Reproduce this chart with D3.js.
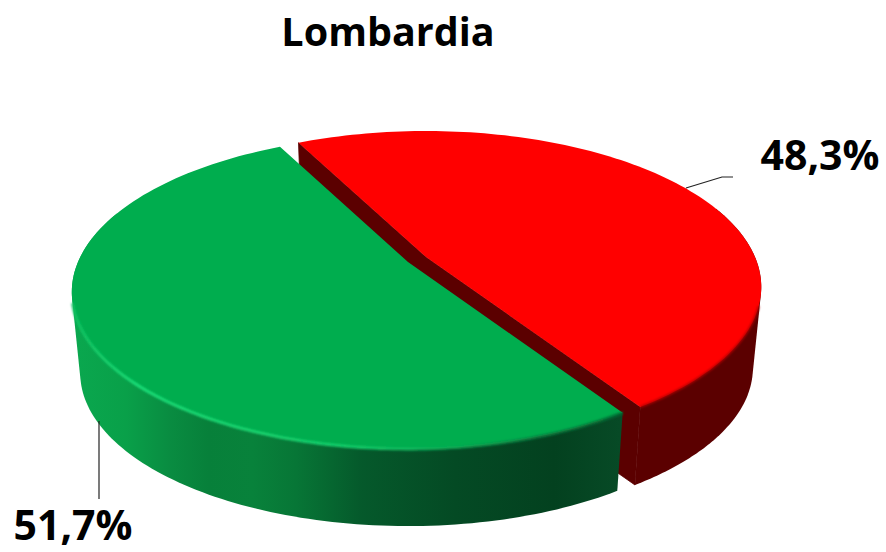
<!DOCTYPE html>
<html><head><meta charset="utf-8">
<script src="https://cdn.jsdelivr.net/npm/d3@7/dist/d3.min.js"></script>
<style>html,body{margin:0;background:#fff}svg{display:block}</style></head>
<body><svg id="c" width="886" height="552"></svg>
<script>
const title = "Lombardia";
const categories = ["Rosso", "Verde"];
const values = [48.3, 51.7];
const labels = ["48,3%", "51,7%"];
const colors = ["#ff0000", "#00ad4e"];

const svg = d3.select("#c");
const defs = svg.append("defs");

// Perspective view of the pie's circular plane, per slice (slices are slightly exploded)
const views = [
  {x: 426, y: 287, ry: 156, vtx: -30, c: 329},
  {x: 408, y: 292, ry: 157, vtx: -30, c: 330}
];
const depthDy = 81, depthScale = 0.975;

const pie = d3.pie().sort(null).value(d => d).startAngle(-27.0 * Math.PI / 180).endAngle(333 * Math.PI / 180);
const arcs = pie(values);

function proj(i, a, r, low) {
  const V = views[i], k = V.vtx / V.ry;
  const u = r * Math.sin(a), v = -r * Math.cos(a);
  const w = 1 + k * v;
  const s = low ? depthScale : 1;
  return [V.x + s * V.c * u / w,
          V.y + s * (V.ry * v + V.vtx) / w + (low ? depthDy : 0)];
}
const line = d3.line();
function arcPts(i, a0, a1, low) {
  const n = 120;
  return d3.range(n + 1).map(j => proj(i, a0 + (a1 - a0) * j / n, 1, low));
}

// gradients
const greenStops = [[0,"#0aa84f"],[0.1,"#09a049"],[0.18,"#098c41"],[0.25,"#07803a"],[0.33,"#08823b"],[0.41,"#077636"],[0.53,"#05592b"],[0.7,"#044a24"],[0.88,"#03411f"],[1,"#074a26"]];
const gg = defs.append("linearGradient").attr("id","gw").attr("gradientUnits","userSpaceOnUse")
  .attr("x1",71).attr("x2",620).attr("y1",0).attr("y2",0);
gg.selectAll("stop").data(greenStops).join("stop").attr("offset",d=>d[0]).attr("stop-color",d=>d[1]);
const rg = defs.append("linearGradient").attr("id","gr").attr("gradientUnits","userSpaceOnUse")
  .attr("x1",71).attr("x2",620).attr("y1",0).attr("y2",0);
[[0,"#10c060"],[0.12,"#1fe07a"],[0.5,"#18cf6c"],[0.7,"#0ea854"],[0.85,"#0a7d40"],[1,"#066a33"]].forEach(s=>rg.append("stop").attr("offset",s[0]).attr("stop-color",s[1]));
defs.append("filter").attr("id","soft").attr("x","-5%").attr("y","-5%").attr("width","110%").attr("height","110%")
  .append("feGaussianBlur").attr("stdDeviation",0.8);

const wallFill = ["#5b0000", "url(#gw)"];
const cutFill = ["#5b0000", "#03411f"];
// the stretch of each slice's rim that faces the viewer
const frontArc = [
  [70 * Math.PI / 180, arcs[0].endAngle],
  [arcs[1].startAngle, 290 * Math.PI / 180]
];
const rimArc = [
  [108 * Math.PI / 180, arcs[0].endAngle],
  [arcs[1].startAngle, 255 * Math.PI / 180]
];

[0, 1].forEach(i => {
  const d = arcs[i];
  const top = arcPts(i, d.startAngle, d.endAngle, false);
  const bot = arcPts(i, d.startAngle, d.endAngle, true);
  const g = svg.append("g").attr("class", "slice-" + categories[i]);
  const c = proj(i, 0, 0, false), cb = proj(i, 0, 0, true);
  if (i === 0) {
    g.append("path").attr("fill", cutFill[i]).attr("stroke", cutFill[i]).attr("stroke-width", 0.8)
      .attr("d", line([top[0], c, top[top.length-1], bot[bot.length-1], cb, bot[0]]) + "Z");
  }
  const ft = arcPts(i, frontArc[i][0], frontArc[i][1], false);
  const fb = arcPts(i, frontArc[i][0], frontArc[i][1], true);
  g.append("path").attr("fill", wallFill[i]).attr("d", line(d3.polygonHull(ft.concat(fb))) + "Z");
  g.append("path").attr("fill", colors[i]).attr("d", line([c].concat(top)) + "Z");
  g.append("path").attr("fill","none").attr("filter","url(#soft)")
    .attr("stroke", i === 0 ? "#b00000" : "url(#gr)").attr("stroke-width", i === 0 ? 2 : 2.8)
    .attr("d", line(arcPts(i, rimArc[i][0], rimArc[i][1], false)));
});

const leaders = [[[686,188],[722,177],[733,177]], [[99,421],[99,499]]];
svg.selectAll("path.leader").data(leaders).join("path").attr("class","leader")
  .attr("fill","none").attr("stroke","#222").attr("stroke-width",1.2).attr("d", d => line(d));

const font = "'Open Sans', Lato, sans-serif";
svg.append("text").attr("x",388).attr("y",46).attr("text-anchor","middle")
  .attr("font-family",font).attr("font-weight",700).attr("font-size",39.5).attr("fill","#000").text(title);
svg.append("text").attr("x",820).attr("y",170).attr("text-anchor","middle")
  .attr("font-family",font).attr("font-weight",700).attr("font-size",41).attr("fill","#000").text(labels[0]);
svg.append("text").attr("x",73).attr("y",540).attr("text-anchor","middle")
  .attr("font-family",font).attr("font-weight",700).attr("font-size",41).attr("fill","#000").text(labels[1]);
</script></body></html>
